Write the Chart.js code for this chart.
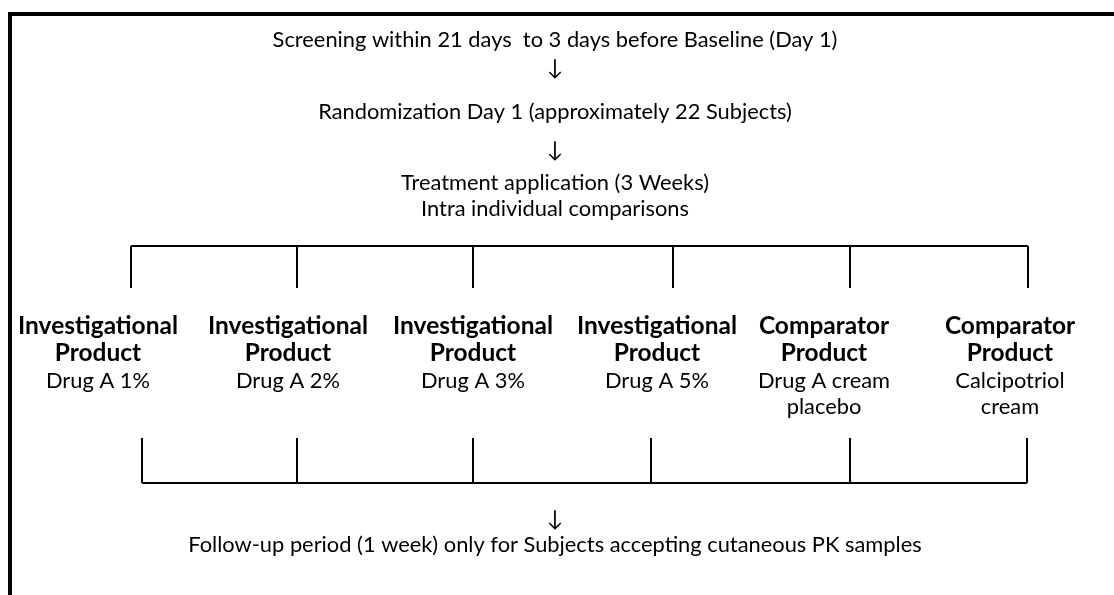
<!DOCTYPE html>
<html>
<head>
<meta charset="utf-8">
<script src="https://cdn.jsdelivr.net/npm/chart.js@4"></script>
<style>
  html, body { margin: 0; padding: 0; background: #fff; }
  #wrap { width: 1114px; height: 595px; position: relative; }
</style>
</head>
<body>
<div id="wrap"><canvas id="fluxo"></canvas></div>
<script>
// Conteúdo do fluxograma
const etapas = [
  'Screening within 21 days  to 3 days before Baseline (Day 1)',
  '↓',
  'Randomization Day 1 (approximately 22 Subjects)',
  '↓',
  'Treatment application (3 Weeks)',
  'Intra individual comparisons'
];
const tiposBraco = [
  ['Investigational', 'Product'],
  ['Investigational', 'Product'],
  ['Investigational', 'Product'],
  ['Investigational', 'Product'],
  ['Comparator', 'Product'],
  ['Comparator', 'Product']
];
const produtosBraco = [
  ['Drug A 1%'],
  ['Drug A 2%'],
  ['Drug A 3%'],
  ['Drug A 5%'],
  ['Drug A cream', 'placebo'],
  ['Calcipotriol', 'cream']
];
const etapaFinal = [
  '↓',
  'Follow-up period (1 week) only for Subjects accepting cutaneous PK samples'
];

// Layout (pixels do desenho)
const W = 1114, H = 595;
const centroX = 555;
const linhasEtapas = [40, 68, 112, 150, 183, 209];
const linhasFinal = [519, 545];
const centrosBraco = [98, 288, 473, 657, 824, 1010];
const linhasBraco = [326, 353, 381, 407];
const chaveTopo = { y: 246, yFim: 288, xs: [131, 297, 473, 673, 850, 1028] };
const chaveBase = { y: 483, yIni: 438, xs: [142, 297, 473, 651, 850, 1027] };
const fonte = 'Lato, "Open Sans", sans-serif';
const larguraLinha1 = 565;
const larguraNegrito = 160;

function segmento(pontos, largura) {
  return {
    type: 'line',
    data: pontos.map(([x, y]) => ({ x, y })),
    borderColor: '#000',
    borderWidth: largura,
    pointRadius: 0,
    showLine: true,
    fill: false,
    tension: 0,
    borderCapStyle: 'butt',
    clip: false
  };
}

const datasets = [];
// moldura (topo e lado esquerdo)
datasets.push(segmento([[8, 14], [W, 14]], 4));
datasets.push(segmento([[10, 12], [10, H]], 4));
// chave superior
datasets.push(segmento([[chaveTopo.xs[0], chaveTopo.y], [chaveTopo.xs[chaveTopo.xs.length - 1], chaveTopo.y]], 2));
chaveTopo.xs.forEach(x => datasets.push(segmento([[x, chaveTopo.y], [x, chaveTopo.yFim]], 2)));
// chave inferior
datasets.push(segmento([[chaveBase.xs[0], chaveBase.y], [chaveBase.xs[chaveBase.xs.length - 1], chaveBase.y]], 2));
chaveBase.xs.forEach(x => datasets.push(segmento([[x, chaveBase.yIni], [x, chaveBase.y]], 2)));

const pluginTextos = {
  id: 'textos',
  afterDatasetsDraw(chart) {
    const ctx = chart.ctx;
    const sx = chart.scales.x, sy = chart.scales.y;
    ctx.save();
    ctx.fillStyle = '#000';
    ctx.textAlign = 'center';
    ctx.textBaseline = 'middle';

    // ajusta os tamanhos pela largura medida no original
    ctx.font = `20px ${fonte}`;
    const tam = 20 * larguraLinha1 / ctx.measureText(etapas[0]).width;
    ctx.font = `bold 20px ${fonte}`;
    const tamN = 20 * larguraNegrito / ctx.measureText(tiposBraco[0][0]).width;
    const normal = `${tam.toFixed(2)}px ${fonte}`;
    const negrito = `bold ${tamN.toFixed(2)}px ${fonte}`;
    const escrever = (txt, x, y, f) => {
      ctx.font = f;
      ctx.fillText(txt, sx.getPixelForValue(x), sy.getPixelForValue(y));
    };

    etapas.forEach((t, i) => escrever(t, centroX, linhasEtapas[i], normal));
    tiposBraco.forEach((linhas, i) => {
      linhas.forEach((t, j) => escrever(t, centrosBraco[i], linhasBraco[j], negrito));
      produtosBraco[i].forEach((t, j) => escrever(t, centrosBraco[i], linhasBraco[2 + j], normal));
    });
    etapaFinal.forEach((t, i) => escrever(t, centroX, linhasFinal[i], normal));
    ctx.restore();
  }
};

new Chart(document.getElementById('fluxo'), {
  type: 'scatter',
  data: { datasets },
  options: {
    responsive: true,
    maintainAspectRatio: false,
    animation: false,
    layout: { padding: 0 },
    plugins: { legend: { display: false }, tooltip: { enabled: false } },
    scales: {
      x: { type: 'linear', min: 0, max: W, display: false },
      y: { type: 'linear', min: 0, max: H, reverse: true, display: false }
    }
  },
  plugins: [pluginTextos]
});
</script>
</body>
</html>
